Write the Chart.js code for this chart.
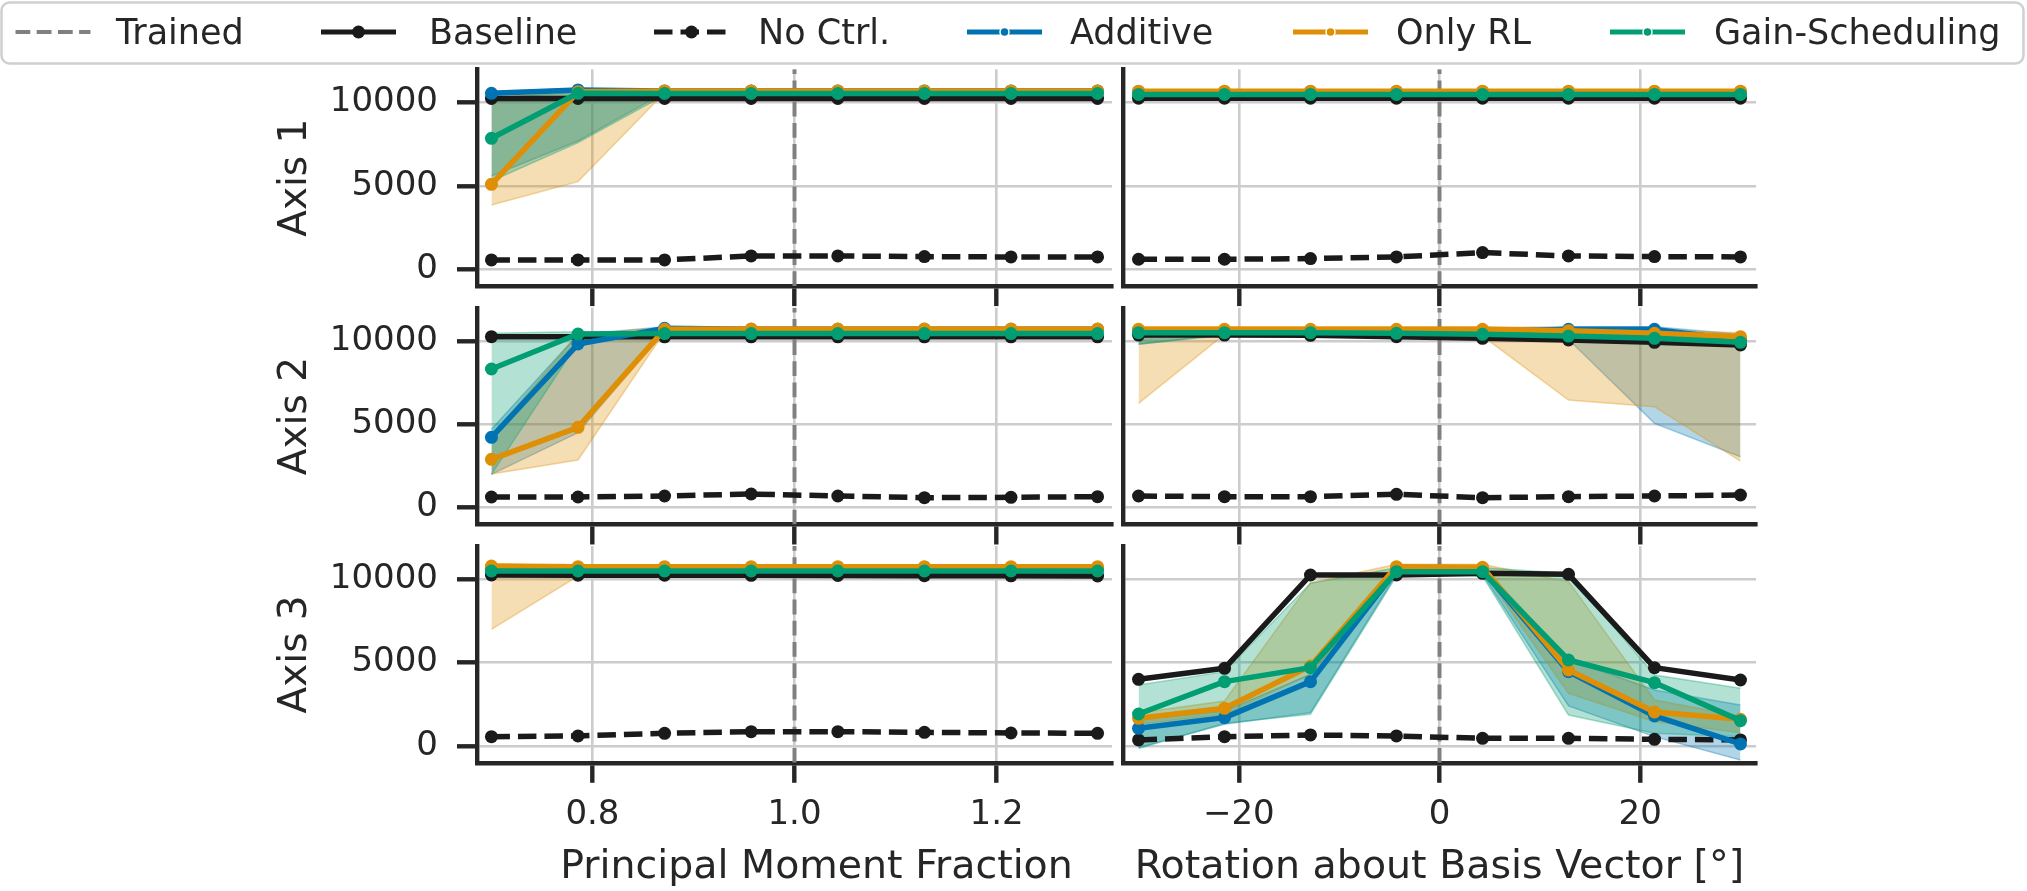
<!DOCTYPE html>
<html>
<head>
<meta charset="utf-8">
<script src="https://cdn.jsdelivr.net/npm/chart.js@4.4.0/dist/chart.umd.min.js"></script>
<style>
  body { margin: 0; width: 2027px; height: 891px; overflow: hidden; background: #fff; }
  canvas { position: absolute; left: 0; top: 0; }
  #legend { position: absolute; left: 0; top: 0; z-index: 5; }
</style>
</head>
<body>
<svg id="legend" width="2027" height="70" xmlns="http://www.w3.org/2000/svg"></svg>
<script>
// ======================
// Data
// ======================
const momentX = [0.7, 0.7857, 0.8714, 0.9571, 1.0429, 1.1286, 1.2143, 1.3];
const rotationX = [-30, -21.43, -12.86, -4.29, 4.29, 12.86, 21.43, 30];
const momentTicks = [0.8, 1.0, 1.2];
const rotationTicks = [-20, 0, 20];
const yTicks = [0, 5000, 10000];
const trainedMoment = 1.0;
const trainedRotation = 0;
const axisNames = ["Axis 1", "Axis 2", "Axis 3"];
const xTitles = ["Principal Moment Fraction", "Rotation about Basis Vector [°]"];
const seriesNames = ["Trained", "Baseline", "No Ctrl.", "Additive", "Only RL", "Gain-Scheduling"];

// Axis 1, moment fraction
const a1mBaseline = [10250, 10250, 10250, 10250, 10250, 10250, 10250, 10250];
const a1mNoCtrl   = [560, 560, 560, 800, 800, 760, 740, 740];
const a1mAdd      = [10560, 10760, 10700, 10700, 10700, 10700, 10700, 10700];
const a1mAddLo    = [5600, 7700, 10600, 10600, 10600, 10600, 10600, 10600];
const a1mAddHi    = [10650, 10850, 10800, 10800, 10800, 10800, 10800, 10800];
const a1mRL       = [5100, 10650, 10700, 10700, 10700, 10700, 10700, 10700];
const a1mRLLo     = [3860, 5260, 10600, 10600, 10600, 10600, 10600, 10600];
const a1mRLHi     = [10300, 10750, 10800, 10800, 10800, 10800, 10800, 10800];
const a1mGain     = [7860, 10560, 10550, 10550, 10550, 10550, 10550, 10550];
const a1mGainLo   = [5300, 7600, 10450, 10450, 10450, 10450, 10450, 10450];
const a1mGainHi   = [10250, 10650, 10650, 10650, 10650, 10650, 10650, 10650];

// Axis 1, rotation
const a1rBaseline = [10270, 10270, 10270, 10270, 10270, 10270, 10270, 10270];
const a1rNoCtrl   = [600, 600, 640, 740, 1000, 800, 760, 740];
const a1rAdd      = [10650, 10650, 10650, 10650, 10650, 10650, 10650, 10650];
const a1rAddLo    = [10550, 10550, 10550, 10550, 10550, 10550, 10550, 10550];
const a1rAddHi    = [10750, 10750, 10750, 10750, 10750, 10750, 10750, 10750];
const a1rRL       = [10690, 10690, 10690, 10690, 10690, 10690, 10690, 10690];
const a1rRLLo     = [10600, 10600, 10600, 10600, 10600, 10600, 10600, 10600];
const a1rRLHi     = [10780, 10780, 10780, 10780, 10780, 10780, 10780, 10780];
const a1rGain     = [10490, 10490, 10490, 10490, 10490, 10490, 10490, 10490];
const a1rGainLo   = [10400, 10400, 10400, 10400, 10400, 10400, 10400, 10400];
const a1rGainHi   = [10580, 10580, 10580, 10580, 10580, 10580, 10580, 10580];

// Axis 2, moment fraction
const a2mBaseline = [10260, 10250, 10250, 10250, 10250, 10250, 10250, 10250];
const a2mNoCtrl   = [640, 640, 700, 820, 700, 600, 620, 660];
const a2mAdd      = [4220, 9820, 10760, 10700, 10700, 10700, 10700, 10700];
const a2mAddLo    = [2000, 4500, 10600, 10600, 10600, 10600, 10600, 10600];
const a2mAddHi    = [4700, 10400, 10850, 10800, 10800, 10800, 10800, 10800];
const a2mRL       = [2900, 4820, 10700, 10720, 10720, 10720, 10720, 10720];
const a2mRLLo     = [2020, 2860, 10550, 10600, 10600, 10600, 10600, 10600];
const a2mRLHi     = [4300, 10400, 10800, 10820, 10820, 10820, 10820, 10820];
const a2mGain     = [8320, 10420, 10450, 10450, 10450, 10450, 10450, 10450];
const a2mGainLo   = [2000, 9900, 10350, 10350, 10350, 10350, 10350, 10350];
const a2mGainHi   = [10460, 10550, 10550, 10550, 10550, 10550, 10550, 10550];

// Axis 2, rotation
const a2rBaseline = [10360, 10360, 10340, 10260, 10160, 10060, 9920, 9760];
const a2rNoCtrl   = [700, 660, 660, 800, 600, 660, 700, 760];
const a2rAdd      = [10650, 10600, 10600, 10580, 10560, 10700, 10700, 10060];
const a2rAddLo    = [9800, 10400, 10400, 10400, 10400, 10100, 5060, 3060];
const a2rAddHi    = [10800, 10750, 10750, 10750, 10750, 10850, 10850, 10400];
const a2rRL       = [10700, 10700, 10700, 10700, 10700, 10620, 10460, 10260];
const a2rRLLo     = [6260, 10400, 10500, 10500, 10300, 6460, 6060, 2800];
const a2rRLHi     = [10850, 10850, 10850, 10850, 10850, 10800, 10650, 10500];
const a2rGain     = [10500, 10500, 10500, 10460, 10400, 10300, 10160, 9920];
const a2rGainLo   = [9800, 10350, 10350, 10300, 10250, 10150, 10000, 9700];
const a2rGainHi   = [10650, 10650, 10650, 10600, 10550, 10450, 10300, 10100];

// Axis 3, moment fraction
const a3mBaseline = [10260, 10250, 10250, 10240, 10230, 10220, 10210, 10200];
const a3mNoCtrl   = [560, 600, 760, 860, 860, 820, 780, 760];
const a3mAdd      = [10650, 10650, 10650, 10650, 10650, 10650, 10650, 10650];
const a3mAddLo    = [10550, 10550, 10550, 10550, 10550, 10550, 10550, 10550];
const a3mAddHi    = [10750, 10750, 10750, 10750, 10750, 10750, 10750, 10750];
const a3mRL       = [10800, 10760, 10760, 10760, 10760, 10760, 10760, 10760];
const a3mRLLo     = [7000, 10200, 10650, 10650, 10650, 10650, 10650, 10650];
const a3mRLHi     = [10900, 10850, 10850, 10850, 10850, 10850, 10850, 10850];
const a3mGain     = [10500, 10500, 10500, 10500, 10500, 10500, 10500, 10500];
const a3mGainLo   = [10400, 10400, 10400, 10400, 10400, 10400, 10400, 10400];
const a3mGainHi   = [10600, 10600, 10600, 10600, 10600, 10600, 10600, 10600];

// Axis 3, rotation
const a3rBaseline = [4000, 4660, 10260, 10260, 10360, 10300, 4700, 3960];
const a3rNoCtrl   = [360, 560, 660, 600, 460, 460, 400, 360];
const a3rAdd      = [1060, 1700, 3860, 10560, 10560, 4460, 1800, 120];
const a3rAddLo    = [-100, 1300, 2000, 10300, 10300, 2400, 560, -840];
const a3rAddHi    = [1600, 2100, 4300, 10800, 10800, 5200, 3360, 2460];
const a3rRL       = [1660, 2260, 4800, 10760, 10720, 4560, 2040, 1600];
const a3rRLLo     = [1300, 1900, 4300, 10500, 10500, 3160, 1460, 800];
const a3rRLHi     = [2000, 2700, 9800, 10900, 10900, 9860, 2760, 1800];
const a3rGain     = [1920, 3860, 4700, 10460, 10460, 5160, 3800, 1520];
const a3rGainLo   = [-150, 1360, 1900, 10200, 10200, 1860, 760, 560];
const a3rGainHi   = [3660, 4460, 9760, 10700, 10700, 10360, 4260, 3460];

const panels = [
  { row: 0, col: 0, base: a1mBaseline, noCtrl: a1mNoCtrl, add: [a1mAdd, a1mAddLo, a1mAddHi], rl: [a1mRL, a1mRLLo, a1mRLHi], gain: [a1mGain, a1mGainLo, a1mGainHi] },
  { row: 0, col: 1, base: a1rBaseline, noCtrl: a1rNoCtrl, add: [a1rAdd, a1rAddLo, a1rAddHi], rl: [a1rRL, a1rRLLo, a1rRLHi], gain: [a1rGain, a1rGainLo, a1rGainHi] },
  { row: 1, col: 0, base: a2mBaseline, noCtrl: a2mNoCtrl, add: [a2mAdd, a2mAddLo, a2mAddHi], rl: [a2mRL, a2mRLLo, a2mRLHi], gain: [a2mGain, a2mGainLo, a2mGainHi] },
  { row: 1, col: 1, base: a2rBaseline, noCtrl: a2rNoCtrl, add: [a2rAdd, a2rAddLo, a2rAddHi], rl: [a2rRL, a2rRLLo, a2rRLHi], gain: [a2rGain, a2rGainLo, a2rGainHi] },
  { row: 2, col: 0, base: a3mBaseline, noCtrl: a3mNoCtrl, add: [a3mAdd, a3mAddLo, a3mAddHi], rl: [a3mRL, a3mRLLo, a3mRLHi], gain: [a3mGain, a3mGainLo, a3mGainHi] },
  { row: 2, col: 1, base: a3rBaseline, noCtrl: a3rNoCtrl, add: [a3rAdd, a3rAddLo, a3rAddHi], rl: [a3rRL, a3rRLLo, a3rRLHi], gain: [a3rGain, a3rGainLo, a3rGainHi] }
];

// ======================
// Style / layout
// ======================
const FONT = "DejaVu Sans";
const INK = "#262626";
const GRID = "#cccccc";
const BLUE = "1,115,178", ORANGE = "222,143,5", GREEN = "2,158,115";
const BLACK = "#1a1a1a";
const TRAINED = "#808080";

const colLeft = [477, 1123];
const colRight = [1112, 1756];
const rowTop = [69.3, 307.7, 546];
const rowBottom = [286.1, 524.5, 762.8];
const xLimits = [[0.6857, 1.3143], [-31.55, 31.55]];
const yMin = -1010, yMax = 12000;
const xTitleShift = [22, 0];   // left label sits a bit right of its panel centre
const xTitleY = 868;

function pts(xs, ys) {
  return xs.map((x, i) => ({ x: x, y: ys[i] }));
}

const fmtMoment = v => v.toFixed(1);
const fmtRotation = v => (v < 0 ? "\u2212" + Math.abs(v) : String(v));

// x axis title drawn by hand so it can be nudged sideways
const xTitlePlugin = {
  id: "xTitle",
  afterDraw(chart, args, opts) {
    if (!opts.text) return;
    const a = chart.chartArea;
    const ctx = chart.ctx;
    ctx.save();
    ctx.font = "39.5px '" + FONT + "'";
    ctx.fillStyle = INK;
    ctx.textAlign = "center";
    ctx.textBaseline = "middle";
    ctx.fillText(opts.text, (a.left + a.right) / 2 + opts.shift, xTitleY);
    ctx.restore();
  }
};

// ======================
// One chart per panel
// ======================
function drawPanel(p) {
  const canvas = document.createElement("canvas");
  canvas.width = 2027;
  canvas.height = 891;
  document.body.appendChild(canvas);

  const isLeft = p.col === 0;
  const isBottom = p.row === 2;
  const xs = isLeft ? momentX : rotationX;
  const trained = isLeft ? trainedMoment : trainedRotation;
  const yW = isLeft ? 227 : 10;
  const xH = isBottom ? 891 - rowBottom[2] : 30;

  const ds = [];
  function band(arr, rgb, order) {
    ds.push({ data: pts(xs, arr[1]), borderColor: `rgba(${rgb},0.35)`, borderWidth: 1.5,
      pointRadius: 0, fill: false, order: order });
    ds.push({ data: pts(xs, arr[2]), borderColor: `rgba(${rgb},0.35)`, borderWidth: 1.5,
      pointRadius: 0, fill: "-1", backgroundColor: `rgba(${rgb},0.3)`, order: order });
  }
  function line(ys, color, order, dash) {
    ds.push({ data: pts(xs, ys), borderColor: color, backgroundColor: color, borderWidth: 5.5,
      borderDash: dash || [], borderJoinStyle: "round", pointRadius: 6.5, pointHoverRadius: 6.5,
      pointBorderWidth: 0, pointBackgroundColor: color, fill: false, tension: 0, order: order });
  }

  band(p.add, BLUE, 9);
  band(p.rl, ORANGE, 8);
  band(p.gain, GREEN, 7);
  ds.push({ data: [{ x: trained, y: yMin }, { x: trained, y: yMax }], borderColor: TRAINED,
    borderWidth: 4, borderDash: [14.8, 6.4], pointRadius: 0, fill: false, order: 6 });
  line(p.base, BLACK, 5);
  line(p.noCtrl, BLACK, 4, [18.5, 8]);
  line(p.add[0], `rgb(${BLUE})`, 3);
  line(p.rl[0], `rgb(${ORANGE})`, 2);
  line(p.gain[0], `rgb(${GREEN})`, 1);

  new Chart(canvas, {
    type: "line",
    data: { datasets: ds },
    plugins: [xTitlePlugin],
    options: {
      responsive: false,
      animation: false,
      events: [],
      layout: {
        padding: {
          left: colLeft[p.col] - yW,
          right: 2027 - colRight[p.col],
          top: rowTop[p.row],
          bottom: 891 - rowBottom[p.row] - xH
        }
      },
      plugins: {
        legend: { display: false },
        tooltip: { enabled: false },
        xTitle: { text: isBottom ? xTitles[p.col] : "", shift: xTitleShift[p.col] }
      },
      scales: {
        x: {
          type: "linear",
          min: xLimits[p.col][0],
          max: xLimits[p.col][1],
          afterBuildTicks: s => { s.ticks = (isLeft ? momentTicks : rotationTicks).map(v => ({ value: v })); },
          afterFit: s => { s.height = xH; },
          grid: { color: GRID, lineWidth: 2.6, drawTicks: true, tickLength: 20, tickWidth: 4.4, tickColor: INK },
          border: { display: true, color: INK, width: 4.4 },
          ticks: { display: isBottom, padding: 12, color: INK, font: { family: FONT, size: 34 },
            maxRotation: 0, autoSkip: false, callback: isLeft ? fmtMoment : fmtRotation },
          title: { display: false }
        },
        y: {
          type: "linear",
          min: yMin,
          max: yMax,
          afterBuildTicks: s => { s.ticks = yTicks.map(v => ({ value: v })); },
          afterFit: s => { s.width = yW; },
          grid: { color: GRID, lineWidth: 2.6, drawTicks: isLeft, tickLength: 20, tickWidth: 4.4, tickColor: INK },
          border: { display: true, color: INK, width: 4.4 },
          ticks: { display: isLeft, padding: 19, color: INK, font: { family: FONT, size: 34 },
            callback: v => String(v) },
          title: { display: isLeft, text: axisNames[p.row], color: INK,
            font: { family: FONT, size: 39 }, padding: { top: 22, bottom: 0 } }
        }
      }
    }
  });
}

panels.forEach(drawPanel);

// ======================
// Legend (top frame)
// ======================
const legendSym = [15.5, 321, 654, 967, 1293, 1610];
const legendText = [116, 429, 758, 1070, 1396, 1714];
const svg = document.getElementById("legend");
const NS = "http://www.w3.org/2000/svg";
function el(tag, attrs) {
  const e = document.createElementNS(NS, tag);
  for (const k in attrs) e.setAttribute(k, attrs[k]);
  svg.appendChild(e);
  return e;
}
el("rect", { x: 1.5, y: 2.5, width: 2022, height: 61, rx: 8, fill: "#fff", stroke: "#d0d0d0", "stroke-width": 2.5 });
const symColors = [TRAINED, BLACK, BLACK, `rgb(${BLUE})`, `rgb(${ORANGE})`, `rgb(${GREEN})`];
seriesNames.forEach((name, i) => {
  const x0 = legendSym[i], x1 = x0 + 75, cy = 32;
  const line = { x1: x0, y1: cy, x2: x1, y2: cy, stroke: symColors[i], "stroke-width": i === 0 ? 4 : 5 };
  if (i === 0) line["stroke-dasharray"] = "14.8 6.4";
  if (i === 2) line["stroke-dasharray"] = "18.5 8";
  el("line", line);
  if (i === 1 || i === 2) el("circle", { cx: (x0 + x1) / 2, cy: cy, r: 6.5, fill: BLACK });
  if (i >= 3) el("circle", { cx: (x0 + x1) / 2, cy: cy, r: 4.5, fill: symColors[i], stroke: "#fff", "stroke-width": 1.5 });
  const t = el("text", { x: legendText[i], y: 44, "font-family": FONT, "font-size": 35, fill: INK });
  t.textContent = name;
});
</script>
</body>
</html>
